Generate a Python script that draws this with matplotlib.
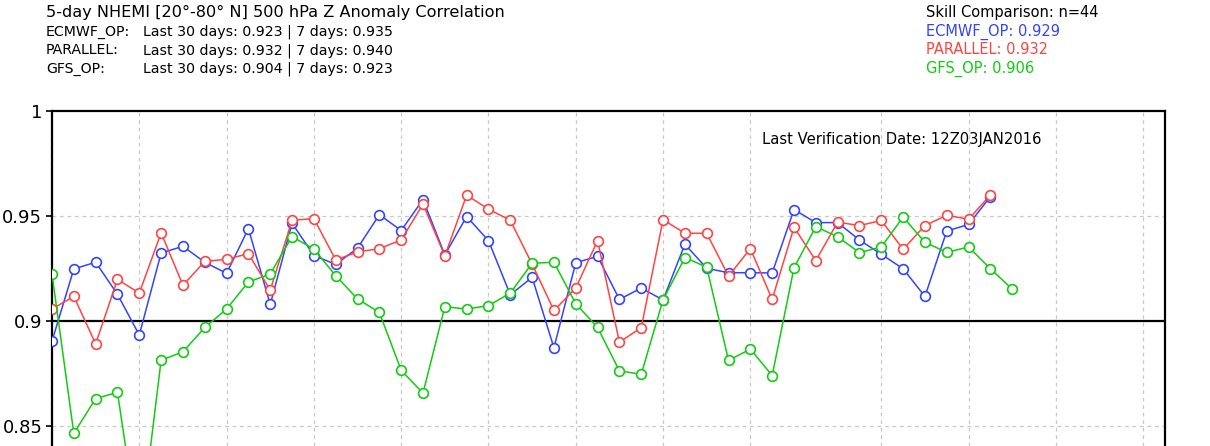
import matplotlib
matplotlib.use("Agg")
import matplotlib.pyplot as plt
import numpy as np

# 5-day NHEMI 500 hPa Z anomaly correlation, one value per verification day
ecmwf_op = [0.8903, 0.9247, 0.9279, 0.9126, 0.8932, 0.9323, 0.9355, 0.9279, 0.9226, 0.9439,
            0.9078, 0.9465, 0.9311, 0.9269, 0.9346, 0.9506, 0.9430, 0.9578, 0.9314, 0.9497,
            0.9382, 0.9124, 0.9207, 0.8871, 0.9277, 0.9307, 0.9102, 0.9156, 0.9099, 0.9365,
            0.9250, 0.9229, 0.9229, 0.9228, 0.9530, 0.9468, 0.9468, 0.9385, 0.9317, 0.9248,
            0.9116, 0.9428, 0.9459, 0.9592]
parallel = [0.9056, 0.9116, 0.8890, 0.9197, 0.9132, 0.9419, 0.9169, 0.9283, 0.9293, 0.9320,
            0.9146, 0.9479, 0.9487, 0.9290, 0.9328, 0.9344, 0.9385, 0.9556, 0.9309, 0.9599,
            0.9532, 0.9479, 0.9270, 0.9049, 0.9156, 0.9382, 0.8898, 0.8967, 0.9482, 0.9417,
            0.9417, 0.9213, 0.9344, 0.9102, 0.9446, 0.9287, 0.9470, 0.9454, 0.9478, 0.9341,
            0.9454, 0.9503, 0.9484, 0.9600]
gfs_op = [0.9223, 0.8463, 0.8629, 0.8659, 0.7960, 0.8812, 0.8852, 0.8968, 0.9056, 0.9185,
          0.9223, 0.9401, 0.9342, 0.9215, 0.9104, 0.9040, 0.8764, 0.8655, 0.9067, 0.9056,
          0.9072, 0.9132, 0.9274, 0.9279, 0.9081, 0.8968, 0.8761, 0.8745, 0.9100, 0.9301,
          0.9256, 0.8811, 0.8865, 0.8739, 0.9252, 0.9449, 0.9400, 0.9325, 0.9352, 0.9494,
          0.9374, 0.9326, 0.9352, 0.9248, 0.9151]

series_names = ["ECMWF_OP", "PARALLEL", "GFS_OP"]
last30 = [0.923, 0.932, 0.904]
last7 = [0.935, 0.940, 0.923]
skill = [0.929, 0.932, 0.906]
n_days = 44
verif_date = "12Z03JAN2016"

colors = ["#3344ff", "#ff4444", "#11cc11"]
grid_x = [0, 4, 8, 12, 16, 20, 24, 28, 32, 38, 42, 46, 50]
y_ticks = [0.85, 0.9, 0.95, 1.0]
y_ticklabels = ["0.85", "0.9", "0.95", "1"]

plt.rcParams["font.family"] = ["DejaVu Sans"]

W, H = 1210, 446
fig = plt.figure(figsize=(W / 100, H / 100), dpi=100)
ax = fig.add_axes([52 / W, 0.0, (1165 - 52) / W, 1 - 111 / H])

for vals, c in zip([ecmwf_op, parallel, gfs_op], colors):
    x = np.arange(len(vals))
    ax.plot(x, vals, color=c, lw=1.1, marker="o", markersize=7,
            markerfacecolor="white", markeredgecolor=c, markeredgewidth=1.2,
            zorder=3)

ax.set_xlim(0, 51)
ax.set_ylim(0.8403, 1.0)

for gx in grid_x:
    ax.axvline(gx, color="#c8c8c8", lw=0.9, ls=(0, (3, 3)), zorder=1)
for gy in [0.85, 0.95]:
    ax.axhline(gy, color="#c8c8c8", lw=0.9, ls=(0, (3, 3)), zorder=1)
ax.axhline(0.9, color="black", lw=1.6, zorder=2)

ax.set_xticks([])
ax.set_yticks(y_ticks)
ax.set_yticklabels(y_ticklabels, fontsize=13)
ax.tick_params(axis="y", length=4, width=1.2, pad=3)
for side in ["left", "top", "right"]:
    ax.spines[side].set_linewidth(1.6)
ax.spines["bottom"].set_visible(False)


# text positions in pixels from the top left corner, baseline aligned
def put(x, y, s, **kw):
    fig.text(x / W, 1 - y / H, s, va="baseline", ha="left", **kw)


put(46, 17.5, "5-day NHEMI [20\u00b0-80\u00b0 N] 500 hPa Z Anomaly Correlation", fontsize=11.6)
for i, name in enumerate(series_names):
    y = 35.5 + i * 18.7
    put(46, y, name + ":", fontsize=10.2)
    put(143, y, "Last 30 days: %.3f | 7 days: %.3f" % (last30[i], last7[i]), fontsize=10.2)

put(926, 17.5, "Skill Comparison: n=%d" % n_days, fontsize=10.5)
for i, name in enumerate(series_names):
    put(926, 36 + i * 18.5, "%s: %.3f" % (name, skill[i]), fontsize=10.5, color=colors[i])

put(762, 144, "Last Verification Date: " + verif_date, fontsize=10.6)

fig.savefig("out.png", dpi=100)
